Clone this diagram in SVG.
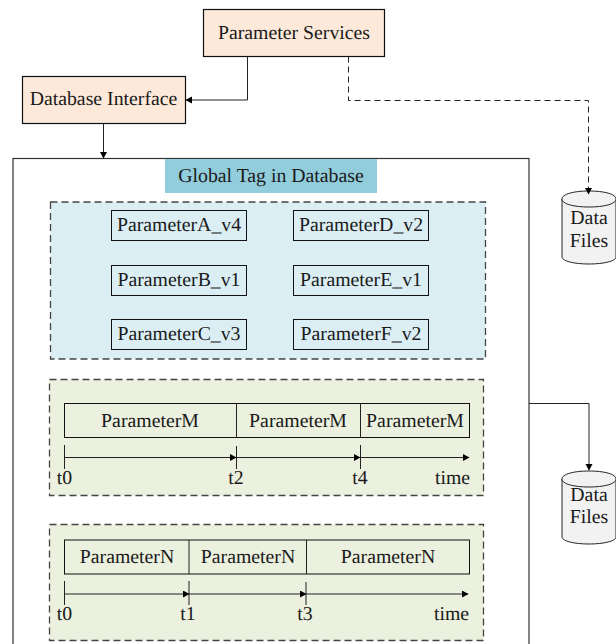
<svg xmlns="http://www.w3.org/2000/svg" width="616" height="644" viewBox="0 0 616 644">
<defs>
<marker id="arr" markerUnits="userSpaceOnUse" markerWidth="8" markerHeight="8" refX="6" refY="3.5" orient="auto"><path d="M0,0L6.500,3.500L0,7Z" fill="#000"/></marker>
</defs>
<style>
text{font-family:"Liberation Serif","Times New Roman",serif;font-size:19.800px;fill:#1a1a1a;text-anchor:middle;text-rendering:geometricPrecision}
.svc{fill:#fde9d9;stroke:#111;stroke-width:1.200}
.p{fill:#dbeef4;stroke:#111;stroke-width:1}
.seg{fill:#ebf1de;stroke:#111;stroke-width:1}
.dash{stroke:#444;stroke-width:1.300;stroke-dasharray:7 4}
.c{fill:none;stroke:#222;stroke-width:1}
.db{fill:#f2f2f2;stroke:#222;stroke-width:1}
.tick{stroke:#222;stroke-width:1;fill:none}
</style>
<g id="global-tag">
<rect x="13" y="158.500" width="516" height="490" fill="#fff" stroke="#333" stroke-width="1.200"/>
<rect x="165" y="159" width="212" height="34" fill="#92cddc"/>
<text x="271" y="182">Global Tag in Database</text>
</g>
<g id="group-current">
<rect class="dash" x="50.500" y="202" width="435" height="157" fill="#dbeef4"/>
</g>
<g id="param-a"><rect class="p" x="111.500" y="210.500" width="135" height="30"/><text x="179" y="231">ParameterA_v4</text></g>
<g id="param-d"><rect class="p" x="293.500" y="210.500" width="135" height="30"/><text x="361" y="231">ParameterD_v2</text></g>
<g id="param-b"><rect class="p" x="111.500" y="265.500" width="135" height="30"/><text x="179" y="286">ParameterB_v1</text></g>
<g id="param-e"><rect class="p" x="293.500" y="265.500" width="135" height="30"/><text x="361" y="286">ParameterE_v1</text></g>
<g id="param-c"><rect class="p" x="111.500" y="319.500" width="135" height="30"/><text x="179" y="340">ParameterC_v3</text></g>
<g id="param-f"><rect class="p" x="293.500" y="319.500" width="135" height="30"/><text x="361" y="340">ParameterF_v2</text></g>
<g id="group-m">
<rect class="dash" x="49.500" y="379.500" width="434" height="116" fill="#ebf1de"/>
<rect class="seg" x="64.500" y="403.500" width="405" height="34"/>
<path class="tick" d="M236.500,403.500V437.500M360.500,403.500V437.500"/>
<text x="150" y="427">ParameterM</text><text x="298" y="427">ParameterM</text><text x="415" y="427">ParameterM</text>
<path class="tick" d="M64.500,445V469M236.500,446V469M360.500,445V469"/>
<text x="64.500" y="484">t0</text><text x="236" y="484">t2</text><text x="360" y="484">t4</text><text x="452.500" y="484">time</text>
</g>
<g id="group-n">
<rect class="dash" x="49.500" y="524.500" width="434" height="116" fill="#ebf1de"/>
<rect class="seg" x="64.500" y="540" width="405" height="34"/>
<path class="tick" d="M189,540V574M306.500,540V574"/>
<text x="127" y="563">ParameterN</text><text x="248" y="563">ParameterN</text><text x="388" y="563">ParameterN</text>
<path class="tick" d="M64.500,581V605M189,581V605M306,582V605"/>
<text x="64.500" y="620">t0</text><text x="188" y="620">t1</text><text x="305" y="620">t3</text><text x="451.500" y="620">time</text>
</g>
<g id="parameter-services"><rect class="svc" x="203.500" y="9.500" width="181" height="47"/><text x="294" y="39">Parameter Services</text></g>
<g id="database-interface"><rect class="svc" x="22.500" y="76.500" width="163" height="47"/><text x="103.500" y="105">Database Interface</text></g>
<g id="data-files-1">
<path class="db" d="M562,199c0,-5 12,-8 27,-8s27,3 27,8v58c0,4 -12,7 -27,7s-27,-3 -27,-7Z"/>
<path class="db" fill="none" d="M562,199c0,5 12,8 27,8s27,-3 27,-8"/>
<text x="589" y="224">Data</text><text x="589" y="247">Files</text>
</g>
<g id="data-files-2">
<path class="db" d="M562,479c0,-5 12,-8 27,-8s27,3 27,8v58c0,4 -12,7 -27,7s-27,-3 -27,-7Z"/>
<path class="db" fill="none" d="M562,479c0,5 12,8 27,8s27,-3 27,-8"/>
<text x="589" y="501">Data</text><text x="589" y="523">Files</text>
</g>
<g id="connectors">
<path class="c" d="M247.500,56.500V100H186" marker-end="url(#arr)"/>
<path class="c" d="M103.500,123.500V158" marker-end="url(#arr)"/>
<path class="c" stroke-dasharray="6 4" d="M348.500,56.500V100.500H588.500V194" marker-end="url(#arr)"/>
<path class="c" d="M529,403.500H589V470" marker-end="url(#arr)"/>
<path class="c" d="M64.500,457.500H236" marker-end="url(#arr)"/>
<path class="c" d="M236.500,457.500H360" marker-end="url(#arr)"/>
<path class="c" d="M360.500,457.500H469" marker-end="url(#arr)"/>
<path class="c" d="M64.500,594H189" marker-end="url(#arr)"/>
<path class="c" d="M189,594H306" marker-end="url(#arr)"/>
<path class="c" d="M306,594H468" marker-end="url(#arr)"/>
</g>
</svg>
